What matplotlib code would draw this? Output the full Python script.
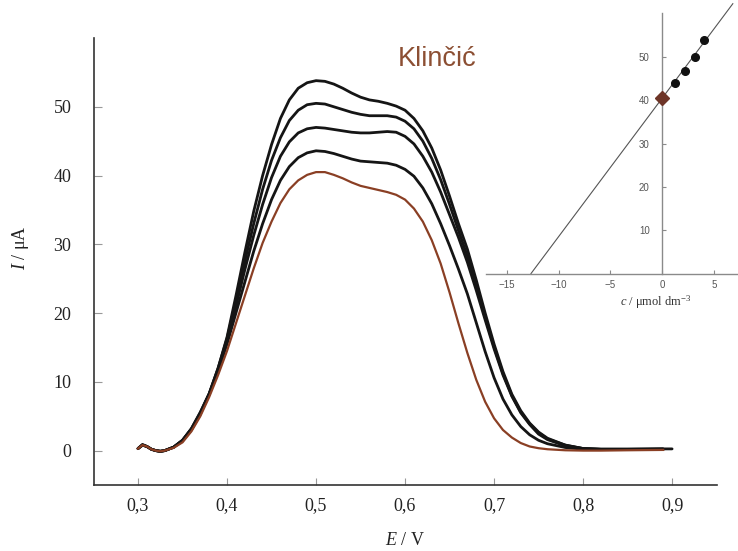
import numpy as np
import matplotlib
matplotlib.use("Agg")
import matplotlib.pyplot as plt

plt.rcParams['mathtext.fontset'] = 'custom'
plt.rcParams['mathtext.rm'] = 'Liberation Serif'
plt.rcParams['mathtext.it'] = 'Liberation Serif:italic'

# ---------------- data ----------------
E = [0.300, 0.305, 0.310, 0.315, 0.320, 0.325, 0.330, 0.340, 0.350, 0.360,
     0.370, 0.380, 0.390, 0.400, 0.410, 0.420, 0.430, 0.440, 0.450, 0.460,
     0.470, 0.480, 0.490, 0.500, 0.510, 0.520, 0.530, 0.540, 0.550, 0.560,
     0.570, 0.580, 0.590, 0.600, 0.610, 0.620, 0.630, 0.640, 0.650, 0.660,
     0.670, 0.680, 0.690, 0.700, 0.710, 0.720, 0.730, 0.740, 0.750, 0.760,
     0.780, 0.800, 0.820, 0.850, 0.890]

I_sample = [0.3, 0.8, 0.6, 0.2, 0.0, -0.1, 0.0, 0.4, 1.2, 2.8,
            5.0, 7.8, 11.0, 14.5, 18.5, 22.5, 26.5, 30.2, 33.3, 36.0,
            38.0, 39.3, 40.1, 40.5, 40.5, 40.1, 39.6, 39.0, 38.5, 38.2,
            37.9, 37.6, 37.2, 36.5, 35.2, 33.3, 30.6, 27.2, 23.0, 18.5,
            14.2, 10.3, 7.1, 4.7, 3.0, 1.9, 1.1, 0.6, 0.35, 0.2,
            0.05, 0.0, 0.0, 0.05, 0.1]

I_add1 = [0.3, 0.8, 0.6, 0.2, 0.0, -0.1, 0.0, 0.5, 1.4, 3.0,
          5.3, 8.2, 11.6, 15.5, 20.0, 24.5, 29.0, 33.0, 36.5, 39.3,
          41.3, 42.6, 43.3, 43.6, 43.5, 43.2, 42.8, 42.4, 42.1, 42.0,
          41.9, 41.8, 41.5, 40.9, 39.9, 38.2, 35.9, 33.0, 29.8, 26.4,
          22.8, 18.6, 14.4, 10.6, 7.5, 5.2, 3.5, 2.3, 1.5, 1.0,
          0.45, 0.2, 0.15, 0.15, 0.2]

I_add2 = [0.3, 0.8, 0.6, 0.2, 0.0, -0.1, 0.0, 0.5, 1.5, 3.1,
          5.4, 8.2, 11.8, 16.0, 21.0, 26.3, 31.3, 35.8, 39.7, 42.8,
          44.9, 46.2, 46.8, 47.0, 46.9, 46.7, 46.5, 46.3, 46.2, 46.2,
          46.3, 46.4, 46.3, 45.7, 44.6, 42.8, 40.5, 37.6, 34.3, 31.0,
          27.4, 23.3, 19.0, 14.8, 11.0, 7.9, 5.5, 3.8, 2.4, 1.6,
          0.7, 0.3, 0.2, 0.2, 0.2]

I_add3 = [0.3, 0.8, 0.6, 0.2, 0.0, -0.1, 0.0, 0.5, 1.5, 3.2,
          5.5, 8.3, 12.0, 16.3, 21.8, 27.5, 33.0, 38.0, 42.2, 45.5,
          48.0, 49.5, 50.3, 50.5, 50.4, 50.0, 49.6, 49.2, 48.9, 48.7,
          48.7, 48.7, 48.5, 47.9, 46.8, 45.0, 42.5, 39.4, 35.8, 32.0,
          28.3, 24.0, 19.4, 15.1, 11.2, 8.0, 5.6, 3.9, 2.6, 1.7,
          0.8, 0.3, 0.2, 0.2, 0.25]

E_top = E + [0.900]
I_add4 = [0.3, 0.9, 0.6, 0.2, 0.0, -0.1, 0.0, 0.5, 1.5, 3.2,
          5.6, 8.3, 12.0, 16.5, 22.5, 28.8, 34.8, 40.0, 44.5, 48.3,
          51.0, 52.7, 53.5, 53.8, 53.7, 53.3, 52.7, 52.0, 51.4, 51.0,
          50.8, 50.5, 50.1, 49.5, 48.3, 46.5, 44.0, 40.8, 37.0, 33.0,
          29.3, 24.8, 20.0, 15.5, 11.5, 8.2, 5.8, 4.0, 2.7, 1.8,
          0.8, 0.3, 0.2, 0.2, 0.25, 0.25]

xticks = [0.3, 0.4, 0.5, 0.6, 0.7, 0.8, 0.9]
xtick_labels = ['0,3', '0,4', '0,5', '0,6', '0,7', '0,8', '0,9']
yticks = [0, 10, 20, 30, 40, 50]

# inset (standard addition plot)
c_added = [1.2, 2.15, 3.15, 4.0]
I_peak = [44.0, 46.8, 49.9, 53.8]
c_sample = [0.0]
I_sample_peak = [40.5]
fit_slope = 3.2
fit_intercept = 40.5
fit_x = [-12.66, 6.8]
inset_xticks = [-15, -10, -5, 0, 5]
inset_yticks = [10, 20, 30, 40, 50]

brown = '#8a3f24'

# ---------------- figure ----------------
fig = plt.figure(figsize=(7.38, 5.51), dpi=100)
ax = fig.add_axes([0.1267, 0.1198, 0.8443, 0.8112])

for series in (I_add1, I_add2, I_add3):
    ax.plot(E, series, color='#151515', lw=2.0, solid_joinstyle='round',
            solid_capstyle='round')
ax.plot(E_top, I_add4, color='#151515', lw=2.0, solid_joinstyle='round',
        solid_capstyle='round')
ax.plot(E, I_sample, color=brown, lw=1.6, solid_joinstyle='round')

ax.set_xlim(0.25, 0.95)
ax.set_ylim(-5, 60)
for s in ('top', 'right'):
    ax.spines[s].set_visible(False)
for s in ('left', 'bottom'):
    ax.spines[s].set_color('#333333')
    ax.spines[s].set_linewidth(1.2)

ax.set_xticks(xticks)
ax.set_xticklabels(xtick_labels)
ax.set_yticks(yticks)
ax.tick_params(axis='both', direction='in', colors='#999999',
               labelcolor='#222222', labelsize=13)
ax.tick_params(axis='y', length=6, pad=16)
ax.tick_params(axis='x', length=5, pad=9)
for lab in ax.get_xticklabels() + ax.get_yticklabels():
    lab.set_family('Liberation Serif')

ax.set_xlabel(r'$\mathit{E}$ / V', fontsize=13, family='Liberation Serif',
              color='#222222')
ax.set_ylabel(r'$\mathit{I}$ / μA', fontsize=13, family='Liberation Serif',
              color='#222222')
ax.xaxis.set_label_coords(0.5, -0.106)
ax.yaxis.set_label_coords(-0.100, 0.53)

fig.text(0.592, 0.893, 'Klinčić', color='#8c4f33', fontsize=19.5,
         family='Liberation Sans', ha='center', va='center')

# ---------------- inset ----------------
ins = fig.add_axes([0.6585, 0.5036, 0.3415, 0.4719])
ins.patch.set_alpha(0)
ins.set_xlim(-17, 7.3)
ins.set_ylim(0, 60)
ins.spines['left'].set_position(('data', 0))
ins.spines['bottom'].set_position(('data', 0))
for s in ('top', 'right'):
    ins.spines[s].set_visible(False)
for s in ('left', 'bottom'):
    ins.spines[s].set_color('#8a8a8a')
    ins.spines[s].set_linewidth(1.0)

fx = np.array(fit_x)
ins.plot(fx, fit_intercept + fit_slope * fx, color='#555555', lw=0.8,
         clip_on=False, zorder=2)
ins.plot(c_added, I_peak, 'o', color='#111111', ms=5.5, zorder=3,
         clip_on=False)
ins.plot(c_sample, I_sample_peak, 'D', color='#6e3528', ms=7, zorder=4,
         clip_on=False)

ins.set_xticks(inset_xticks)
ins.set_yticks(inset_yticks)
ins.tick_params(axis='both', direction='in', colors='#8a8a8a',
                labelcolor='#555555', labelsize=7, length=3)
ins.tick_params(axis='y', pad=9)
ins.tick_params(axis='x', pad=5)
for lab in ins.get_xticklabels() + ins.get_yticklabels():
    lab.set_family('Liberation Sans')

ins.text((-0.6 + 17) / 24.3, -0.11, r'$\mathit{c}$ / μmol dm$^{-3}$',
         transform=ins.transAxes, fontsize=9, family='Liberation Serif',
         color='#333333', ha='center', va='center')

fig.savefig('out.png', dpi=100)
